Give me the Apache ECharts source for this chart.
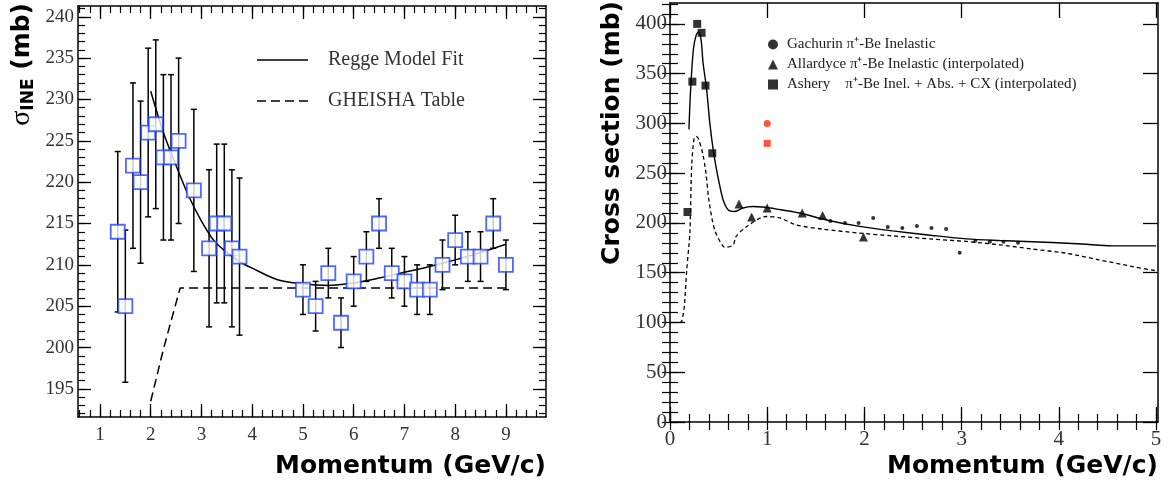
<!DOCTYPE html>
<html><head><meta charset="utf-8">
<script src="https://cdn.jsdelivr.net/npm/echarts@6/dist/echarts.min.js"></script>
<style>html,body{margin:0;padding:0;background:#fff}#c{width:1169px;height:489px}</style>
</head><body><div id="c"></div>
<script>
// ---------- Left panel data ----------
const leftMomentum = [1.35,1.5,1.65,1.8,1.95,2.1,2.25,2.4,2.55,2.85,3.15,3.3,3.45,3.6,3.75,5,5.25,5.5,5.75,6,6.25,6.5,6.75,7,7.25,7.5,7.75,8,8.25,8.5,8.75,9];
const leftSigma    = [214,205,222,220,226,227,223,223,225,219,212,215,215,212,211,207,205,209,203,208,211,215,209,208,207,207,210,213,211,211,215,210];
const leftErr      = [9.7,9.2,10,9.8,10.2,10.2,10,10,10,9.8,9.5,9.6,9.6,9.5,9.5,3,3,3,3,3,3,3,3,3,3,3,3,3,3,3,3,3];
const reggeX = [2.0,2.25,2.5,2.75,3.0,3.25,3.5,3.75,4.0,4.5,5.0,5.5,6.0,6.5,7.0,7.5,8.0,8.5,9.0];
const reggeY = [231,226,222,218.3,215.3,212.9,211.5,210.4,209.6,208.2,207.7,207.5,207.8,208.4,209.1,209.8,210.6,211.5,212.5];
const gheishaX = [2.0,2.25,2.45,2.58,9.0];
const gheishaY = [193.5,199.8,204.3,207.2,207.2];
const leftXTicks = [1,2,3,4,5,6,7,8,9];
const leftYTicks = [195,200,205,210,215,220,225,230,235,240];

// ---------- Right panel data ----------
const gachurinX = [1.65,1.8,1.94,2.09,2.24,2.39,2.54,2.69,2.84,2.98,3.14,3.29,3.43,3.58];
const gachurinY = [202,200,200,205,196,195,197,195,194,170,182,181,181,180];
const allardyceX = [0.71,0.84,1.0,1.36,1.57,1.99];
const allardyceY = [219,206,215,210,207.5,186];
const asheryX = [0.18,0.23,0.28,0.325,0.365,0.435];
const asheryY = [211,342,400,391,338,270];
const redCircle = [[1.0,300]];
const redSquare = [[1.0,280]];
const solidX = [0.195,0.21,0.24,0.27,0.295,0.32,0.34,0.377,0.41,0.45,0.50,0.547,0.6,0.667,0.75,0.85,0.95,1.1,1.33,1.61,1.95,2.29,2.7,3.05,3.39,3.93,4.24,4.55,5.0];
const solidY = [294,330,374,389,392,384,361,334,300,270,243,223,213,211.5,215,216.5,216,213.9,210,203,196.5,192,187.4,184,182.4,180.4,178.8,177,177];
const dashX = [0.1,0.12,0.147,0.171,0.195,0.205,0.223,0.246,0.267,0.29,0.336,0.37,0.40,0.46,0.547,0.58,0.65,0.68,0.79,0.99,1.13,1.30,1.57,1.95,2.29,2.70,3.05,3.39,3.73,4.07,4.41,4.76,5.0];
const dashY = [100,101,116,151,178,190,257,284,287,285,270,250,223,193,176.4,175.7,178,186.4,196.5,206.5,205,198,193.8,189.8,187,183.8,181.4,178,173.7,169.7,163,156.2,152];
const rightXTicks = [0,1,2,3,4,5];
const rightYTicks = [0,50,100,150,200,250,300,350,400];

function steps(a, b, s) { const r = []; for (let v = a; v <= b + 1e-9; v += s) r.push(Math.round(v * 1000) / 1000); return r; }
const zip = (a, b) => a.map((v, i) => [v, b[i]]);

const serif = 'Liberation Serif';
const sans = 'DejaVu Sans';

function axes(grid, min, max, major, minor, majLen, minLen, pos, pos2, labelSize, labelMargin) {
  const base = { type: 'value', gridIndex: grid, min: min, max: max, splitLine: { show: false }, scale: true };
  const line = { show: true, onZero: false, lineStyle: { color: '#000', width: 1.5 } };
  return [
    Object.assign({}, base, { position: pos, axisLine: line,
      axisTick: { show: true, inside: true, length: majLen, customValues: major, lineStyle: { color: '#000', width: 1.3 } },
      axisLabel: { show: true, customValues: major, fontFamily: serif, fontSize: labelSize, color: '#333', margin: labelMargin } }),
    Object.assign({}, base, { position: pos, axisLine: { show: false },
      axisTick: { show: true, inside: true, length: minLen, customValues: minor, lineStyle: { color: '#000', width: 1.2 } },
      axisLabel: { show: false } }),
    Object.assign({}, base, { position: pos2, axisLine: line,
      axisTick: { show: true, inside: true, length: majLen, customValues: major, lineStyle: { color: '#000', width: 1.3 } },
      axisLabel: { show: false } }),
    Object.assign({}, base, { position: pos2, axisLine: { show: false },
      axisTick: { show: true, inside: true, length: minLen, customValues: minor, lineStyle: { color: '#000', width: 1.2 } },
      axisLabel: { show: false } })
  ];
}

const xAxes = [].concat(
  axes(0, 0.567, 9.79, leftXTicks, steps(0.6, 9.8, 0.2), 13, 7, 'bottom', 'top', 19, 9),
  axes(1, 0, 5.02, rightXTicks, steps(0, 5, 0.2), 15, 8, 'bottom', 'top', 21, 7)
);
const yAxes = [].concat(
  axes(0, 191.6, 241.3, leftYTicks, steps(192, 241, 1), 13, 7, 'left', 'right', 19, 4),
  axes(1, 0, 421, rightYTicks, steps(0, 420, 10), 15, 8, 'left', 'right', 21, 3)
);

function errItem(params, api) {
  const x = api.value(0), y = api.value(1), e = api.value(2);
  const t = api.coord([x, y + e]), b = api.coord([x, y - e]);
  const c = 3, st = { stroke: '#000', lineWidth: 1.5 };
  return { type: 'group', children: [
    { type: 'line', shape: { x1: t[0], y1: t[1], x2: b[0], y2: b[1] }, style: st },
    { type: 'line', shape: { x1: t[0] - c, y1: t[1], x2: t[0] + c, y2: t[1] }, style: st },
    { type: 'line', shape: { x1: b[0] - c, y1: b[1], x2: b[0] + c, y2: b[1] }, style: st }
  ] };
}

const nameG = 'Gachurin \u03c0\u207a-Be Inelastic';
const nameA = 'Allardyce \u03c0\u207a-Be Inelastic (interpolated)';
const nameS = 'Ashery    \u03c0\u207a-Be Inel. + Abs. + CX (interpolated)';
const solidIcon = 'path://M0,0H51V1.6H0Z';
const dashIcon = 'path://M0,0H9V1.6H0Z M14,0H23V1.6H14Z M28,0H37V1.6H28Z M42,0H51V1.6H42Z';

const option = {
  animation: false,
  backgroundColor: '#fff',
  grid: [
    { left: 78, top: 6, width: 468, height: 411 },
    { left: 670, top: 3, width: 488, height: 419 }
  ],
  xAxis: xAxes,
  yAxis: yAxes,
  legend: [
    { data: [{ name: 'Regge Model Fit', icon: solidIcon }, { name: 'GHEISHA Table', icon: dashIcon }],
      orient: 'vertical', left: 252, top: 45, itemWidth: 51, itemHeight: 1.6, itemGap: 21,
      selectedMode: false, itemStyle: { color: '#000' },
      textStyle: { fontFamily: serif, fontSize: 20, color: '#333', lineHeight: 20, padding: [0, 0, 0, 15] } },
    { data: [nameG, nameA, nameS], orient: 'vertical', left: 763, top: 32, itemWidth: 10, itemHeight: 10, itemGap: 5,
      selectedMode: false,
      textStyle: { fontFamily: serif, fontSize: 15, color: '#222', lineHeight: 15, padding: [0, 0, 0, 4] } }
  ],
  series: [
    { type: 'custom', name: 'err', xAxisIndex: 0, yAxisIndex: 0, renderItem: errItem,
      data: leftMomentum.map((x, i) => [x, leftSigma[i], leftErr[i]]), z: 2 },
    { type: 'line', name: 'Regge Model Fit', xAxisIndex: 0, yAxisIndex: 0, data: zip(reggeX, reggeY), smooth: 0.3,
      symbol: 'none', lineStyle: { color: '#000', width: 1.5 }, itemStyle: { color: '#000' }, z: 3 },
    { type: 'line', name: 'GHEISHA Table', xAxisIndex: 0, yAxisIndex: 0, data: zip(gheishaX, gheishaY),
      symbol: 'none', lineStyle: { color: '#000', width: 1.5, type: [9, 5] }, itemStyle: { color: '#000' }, z: 3 },
    { type: 'scatter', name: 'data', xAxisIndex: 0, yAxisIndex: 0, data: zip(leftMomentum, leftSigma), symbol: 'rect', symbolSize: 14,
      itemStyle: { color: '#fff', borderColor: '#2244ff', borderWidth: 1.8 }, z: 4 },

    { type: 'line', name: 'solid', xAxisIndex: 4, yAxisIndex: 4, data: zip(solidX, solidY), smooth: 0.3,
      symbol: 'none', lineStyle: { color: '#000', width: 1.4 }, z: 3 },
    { type: 'line', name: 'dashed', xAxisIndex: 4, yAxisIndex: 4, data: zip(dashX, dashY), smooth: 0.3,
      symbol: 'none', lineStyle: { color: '#000', width: 1.3, type: [4, 3] }, z: 3 },
    { type: 'scatter', name: nameG, xAxisIndex: 4, yAxisIndex: 4, data: zip(gachurinX, gachurinY), symbol: 'circle', symbolSize: 4,
      itemStyle: { color: '#000' }, z: 4 },
    { type: 'scatter', name: nameA, xAxisIndex: 4, yAxisIndex: 4, data: zip(allardyceX, allardyceY), symbol: 'triangle', symbolSize: 9,
      itemStyle: { color: '#000' }, z: 4 },
    { type: 'scatter', name: nameS, xAxisIndex: 4, yAxisIndex: 4, data: zip(asheryX, asheryY), symbol: 'rect', symbolSize: 8,
      itemStyle: { color: '#000' }, z: 4 },
    { type: 'scatter', name: 'redC', xAxisIndex: 4, yAxisIndex: 4, data: redCircle, symbol: 'circle', symbolSize: 7,
      itemStyle: { color: '#ff2a00' }, z: 4 },
    { type: 'scatter', name: 'redS', xAxisIndex: 4, yAxisIndex: 4, data: redSquare, symbol: 'rect', symbolSize: 7,
      itemStyle: { color: '#ff2a00' }, z: 4 }
  ],
  graphic: [
    { type: 'text', x: 546, y: 466, style: { text: 'Momentum (GeV/c)', font: 'bold 25px "DejaVu Sans"', fill: '#000', textAlign: 'right', textVerticalAlign: 'middle' } },
    { type: 'text', x: 1158, y: 466, style: { text: 'Momentum (GeV/c)', font: 'bold 25px "DejaVu Sans"', fill: '#000', textAlign: 'right', textVerticalAlign: 'middle' } },
    { type: 'text', x: 612, y: 1, rotation: Math.PI / 2, style: { text: 'Cross section (mb)', font: 'bold 25px "DejaVu Sans"', fill: '#000', textAlign: 'right', textVerticalAlign: 'middle' } },
    { type: 'text', x: 22, y: 3, rotation: Math.PI / 2, style: {
        text: '{s|\u03c3}{b|INE}{m| (mb)}', textAlign: 'right', textVerticalAlign: 'middle',
        rich: {
          s: { fontFamily: serif, fontSize: 28, lineHeight: 30, fill: '#000', verticalAlign: 'middle' },
          b: { fontFamily: sans, fontWeight: 'bold', fontSize: 17, lineHeight: 30, fill: '#000', verticalAlign: 'bottom' },
          m: { fontFamily: sans, fontWeight: 'bold', fontSize: 25, lineHeight: 30, fill: '#000', verticalAlign: 'middle' }
        } } }
  ]
};

const chart = echarts.init(document.getElementById('c'), null, { renderer: 'canvas' });
chart.setOption(option);
</script>
</body></html>
